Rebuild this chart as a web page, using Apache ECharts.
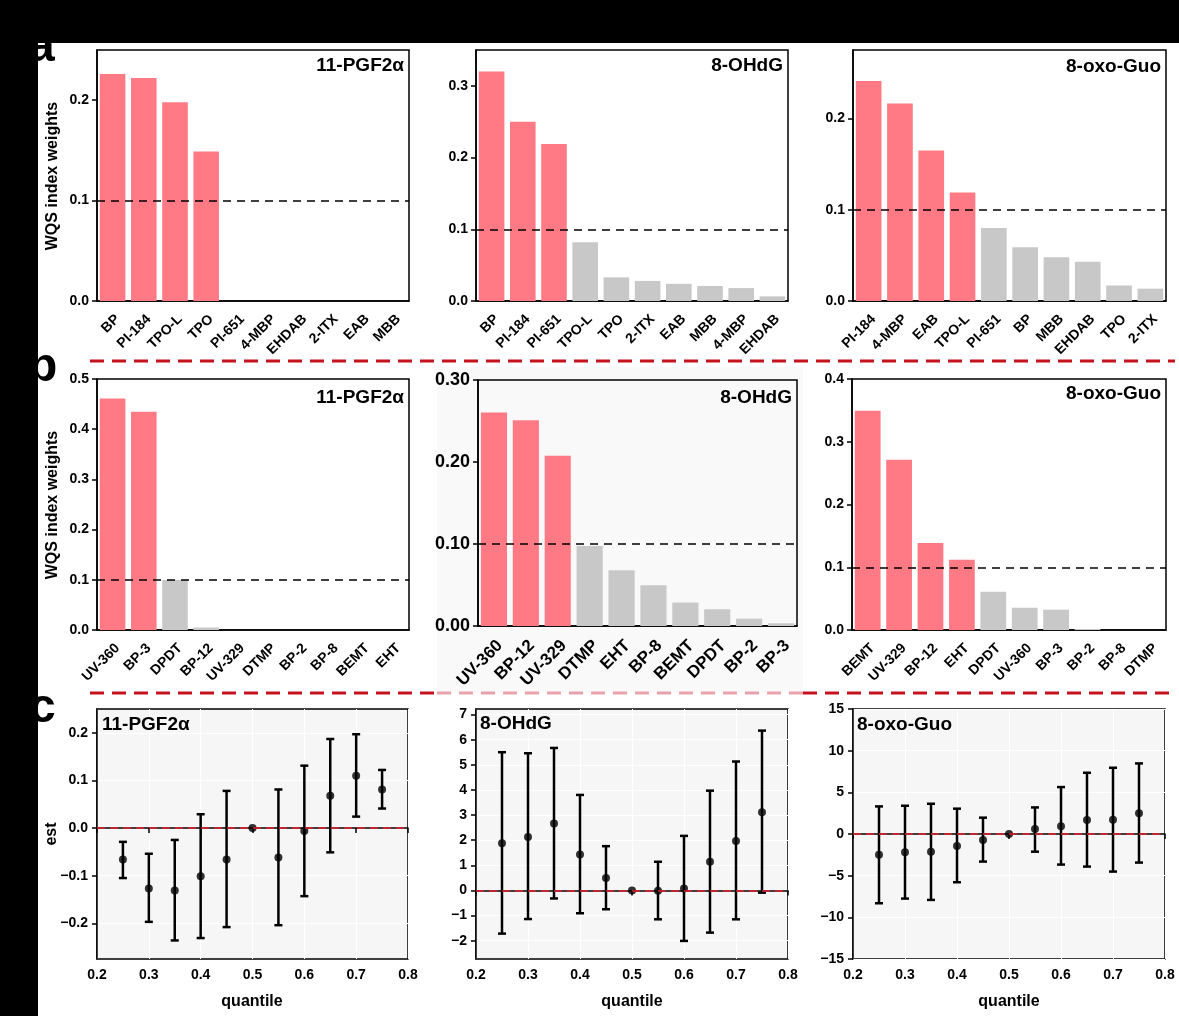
<!DOCTYPE html>
<html>
<head>
<meta charset="utf-8">
<script src="https://cdn.jsdelivr.net/npm/echarts@6/dist/echarts.min.js"></script>
<style>
  html, body { margin: 0; padding: 0; background: #fff; }
  #main { width: 1179px; height: 1016px; }
</style>
</head>
<body>
<div id="main"></div>
<script>
// ---- WQS weights (rows a, b) ----
const catsA1 = ['BP', 'PI-184', 'TPO-L', 'TPO', 'PI-651', '4-MBP', 'EHDAB', '2-ITX', 'EAB', 'MBB'];
const wA1 = [0.226, 0.222, 0.198, 0.149, 0, 0, 0, 0, 0, 0];
const catsA2 = ['BP', 'PI-184', 'PI-651', 'TPO-L', 'TPO', '2-ITX', 'EAB', 'MBB', '4-MBP', 'EHDAB'];
const wA2 = [0.320, 0.250, 0.219, 0.082, 0.033, 0.028, 0.024, 0.021, 0.018, 0.0065];
const catsA3 = ['PI-184', '4-MBP', 'EAB', 'TPO-L', 'PI-651', 'BP', 'MBB', 'EHDAB', 'TPO', '2-ITX'];
const wA3 = [0.241, 0.2165, 0.165, 0.119, 0.080, 0.059, 0.048, 0.043, 0.017, 0.0135];

const catsB1 = ['UV-360', 'BP-3', 'DPDT', 'BP-12', 'UV-329', 'DTMP', 'BP-2', 'BP-8', 'BEMT', 'EHT'];
const wB1 = [0.461, 0.435, 0.0995, 0.005, 0, 0, 0, 0, 0, 0];
const catsB2 = ['UV-360', 'BP-12', 'UV-329', 'DTMP', 'EHT', 'BP-8', 'BEMT', 'DPDT', 'BP-2', 'BP-3'];
const wB2 = [0.2605, 0.251, 0.2075, 0.0977, 0.068, 0.0497, 0.0286, 0.0204, 0.009, 0.0033];
const catsB3 = ['BEMT', 'UV-329', 'BP-12', 'EHT', 'DPDT', 'UV-360', 'BP-3', 'BP-2', 'BP-8', 'DTMP'];
const wB3 = [0.3495, 0.2714, 0.1386, 0.112, 0.061, 0.0355, 0.0324, 0.0016, 0, 0];

const ticksA1 = [0, 0.1, 0.2];
const ticksA2 = [0, 0.1, 0.2, 0.3];
const ticksA3 = [0, 0.1, 0.2];
const ticksB1 = [0, 0.1, 0.2, 0.3, 0.4, 0.5];
const ticksB2 = [0, 0.1, 0.2, 0.3];
const ticksB3 = [0, 0.1, 0.2, 0.3, 0.4];

// ---- qgcomp estimates (row c) ----
const quantiles = [0.25, 0.3, 0.35, 0.4, 0.45, 0.5, 0.55, 0.6, 0.65, 0.7, 0.75];
const estC1 = [-0.066, -0.127, -0.131, -0.101, -0.066, 0, -0.062, -0.006, 0.068, 0.110, 0.081];
const lowC1 = [-0.105, -0.197, -0.236, -0.231, -0.208, 0, -0.204, -0.143, -0.051, 0.024, 0.041];
const upC1 = [-0.029, -0.054, -0.025, 0.029, 0.078, 0, 0.081, 0.131, 0.187, 0.197, 0.122];
const estC2 = [1.88, 2.13, 2.66, 1.43, 0.49, 0, -0.01, 0.08, 1.14, 1.97, 3.11];
const lowC2 = [-1.72, -1.14, -0.32, -0.91, -0.75, 0, -1.15, -2.01, -1.68, -1.15, -0.09];
const upC2 = [5.50, 5.46, 5.67, 3.80, 1.76, 0, 1.14, 2.17, 3.97, 5.13, 6.36];
const estC3 = [-2.48, -2.20, -2.12, -1.44, -0.72, 0, 0.60, 0.92, 1.68, 1.72, 2.48];
const lowC3 = [-8.31, -7.75, -7.91, -5.79, -3.31, 0, -2.12, -3.67, -3.91, -4.51, -3.43];
const upC3 = [3.31, 3.39, 3.63, 3.04, 1.96, 0, 3.19, 5.63, 7.35, 7.95, 8.47];

const ticksC1 = [-0.2, -0.1, 0, 0.1, 0.2];
const ticksC2 = [-2, -1, 0, 1, 2, 3, 4, 5, 6, 7];
const ticksC3 = [-15, -10, -5, 0, 5, 10, 15];

const FONT = '"Liberation Sans", Arial, sans-serif';
const RED = '#ff7a84';
const GREY = '#c8c8c8';
const CUT = 0.1;

const chart = echarts.init(document.getElementById('main'));

const grids = [], xAxes = [], yAxes = [], series = [];
const black = { color: '#000', width: 1.5 };

function minus(s) { return s.replace('-', '\u2212'); }

function barPanel(box, cats, vals, ymax, yticks, fs, yfs, dec, bg) {
  const i = grids.length;
  grids.push({
    left: box[0], top: box[1], width: box[2], height: box[3],
    show: true, borderColor: '#000', borderWidth: 1.5,
    backgroundColor: bg || 'transparent', containLabel: false, outerBoundsMode: 'none'
  });
  xAxes.push({
    gridIndex: i, type: 'category', data: cats,
    axisLine: { lineStyle: black },
    axisTick: { interval: 0, alignWithLabel: true, length: 5, lineStyle: black },
    axisLabel: { interval: 0, rotate: 45, color: '#000', fontWeight: 'bold', fontFamily: FONT,
      fontSize: fs, margin: 11, verticalAlign: 'top' },
    splitLine: { show: false }
  });
  yAxes.push({
    gridIndex: i, type: 'value', min: 0, max: ymax,
    axisLine: { show: true, lineStyle: black },
    axisTick: { show: true, customValues: yticks, length: 5, lineStyle: black },
    axisLabel: {
      customValues: yticks, color: '#000', fontWeight: 'bold', fontFamily: FONT,
      fontSize: yfs, margin: 8, formatter: v => v.toFixed(dec)
    },
    splitLine: { show: false }
  });
  series.push({
    type: 'bar', xAxisIndex: i, yAxisIndex: i, barCategoryGap: '18%',
    data: vals.map(v => ({ value: v, itemStyle: { color: v > CUT ? RED : GREY } })),
    markLine: {
      silent: true, symbol: 'none', label: { show: false },
      lineStyle: { color: '#000', type: [8, 6], width: 1.5 },
      data: [{ yAxis: CUT }]
    }
  });
}

function errPanel(box, est, low, up, ymin, ymax, yticks, dec) {
  const i = grids.length;
  grids.push({
    left: box[0], top: box[1], width: box[2], height: box[3],
    show: true, borderColor: '#000', borderWidth: 1.5,
    backgroundColor: '#f6f6f6', containLabel: false, outerBoundsMode: 'none'
  });
  xAxes.push({
    gridIndex: i, type: 'value', min: 0.2, max: 0.8, interval: 0.1,
    axisLine: { lineStyle: black },
    axisTick: { length: 5, lineStyle: black },
    axisLabel: { color: '#000', fontWeight: 'bold', fontFamily: FONT, fontSize: 14, margin: 9,
      formatter: v => v.toFixed(1) },
    splitLine: { show: true, lineStyle: { color: '#ffffff', width: 1 } }
  });
  yAxes.push({
    gridIndex: i, type: 'value', min: ymin, max: ymax,
    axisLine: { show: true, lineStyle: black },
    axisTick: { show: true, customValues: yticks, length: 5, lineStyle: black },
    axisLabel: { customValues: yticks, color: '#000', fontWeight: 'bold', fontFamily: FONT, fontSize: 14, margin: 9,
      formatter: v => minus(v.toFixed(dec)) },
    splitLine: { show: true, lineStyle: { color: '#ffffff', width: 1 } }
  });
  series.push({
    type: 'custom', xAxisIndex: i, yAxisIndex: i, z: 2,
    data: quantiles.map((q, k) => [q, low[k], up[k]]),
    renderItem: function (params, api) {
      const lo = api.value(1), hi = api.value(2);
      if (lo === hi) return null;
      const a = api.coord([api.value(0), lo]);
      const b = api.coord([api.value(0), hi]);
      const cap = 4;
      const st = { stroke: '#000', lineWidth: 2.5 };
      return {
        type: 'group',
        children: [
          { type: 'line', shape: { x1: a[0], y1: a[1], x2: b[0], y2: b[1] }, style: st },
          { type: 'line', shape: { x1: a[0] - cap, y1: a[1], x2: a[0] + cap, y2: a[1] }, style: st },
          { type: 'line', shape: { x1: b[0] - cap, y1: b[1], x2: b[0] + cap, y2: b[1] }, style: st }
        ]
      };
    },
    markLine: {
      silent: true, symbol: 'none', label: { show: false },
      lineStyle: { color: '#e8202e', type: [8, 5], width: 1.6 },
      data: [{ yAxis: 0 }]
    }
  });
  series.push({
    type: 'scatter', xAxisIndex: i, yAxisIndex: i, z: 3,
    symbol: 'circle', symbolSize: 8, itemStyle: { color: '#000' },
    data: quantiles.map((q, k) => [q, est[k]])
  });
}

barPanel([97, 50, 312, 251], catsA1, wA1, 0.25, ticksA1, 14, 14, 1);
barPanel([476, 50, 312, 251], catsA2, wA2, 0.35, ticksA2, 14, 14, 1);
barPanel([853, 50, 313, 251], catsA3, wA3, 0.275, ticksA3, 14, 14, 1);
barPanel([97, 379, 312, 251], catsB1, wB1, 0.5, ticksB1, 14, 14, 1);
barPanel([478, 380, 319, 246], catsB2, wB2, 0.3, ticksB2, 17, 18, 2, '#f9f9f9');
barPanel([852, 379, 314, 251], catsB3, wB3, 0.4, ticksB3, 14, 14, 1);
errPanel([97, 709, 311, 250], estC1, lowC1, upC1, -0.275, 0.25, ticksC1, 1);
errPanel([476, 709, 312, 250], estC2, lowC2, upC2, -2.73, 7.22, ticksC2, 0);
errPanel([853, 709, 312, 250], estC3, lowC3, upC3, -15, 15, ticksC3, 0);

function txt(x, y, s, size, align, extra) {
  return Object.assign({
    type: 'text', x: x, y: y, z: 20,
    style: { text: s, font: 'bold ' + size + 'px ' + FONT, fill: '#000', align: align, verticalAlign: 'middle' }
  }, extra || {});
}

const sepDark = '#c4121f';
const graphics = [
  { type: 'rect', z: -10, shape: { x: 437, y: 367, width: 366, height: 326 }, style: { fill: '#f9f9f9' } },
  // panel titles
  txt(404, 66, '11-PGF2α', 19, 'right'),
  txt(783, 66, '8-OHdG', 19, 'right'),
  txt(1161, 67, '8-oxo-Guo', 19, 'right'),
  txt(404, 398, '11-PGF2α', 19, 'right'),
  txt(792, 398, '8-OHdG', 19, 'right'),
  txt(1161, 394, '8-oxo-Guo', 19, 'right'),
  txt(102, 725, '11-PGF2α', 19, 'left'),
  txt(480, 724, '8-OHdG', 19, 'left'),
  txt(857, 725, '8-oxo-Guo', 19, 'left'),
  // axis names
  txt(53, 176, 'WQS index weights', 16, 'center', { rotation: Math.PI / 2 }),
  txt(53, 505, 'WQS index weights', 16, 'center', { rotation: Math.PI / 2 }),
  txt(52, 834, 'est', 16, 'center', { rotation: Math.PI / 2 }),
  txt(252, 1002, 'quantile', 16, 'center'),
  txt(632, 1002, 'quantile', 16, 'center'),
  txt(1009, 1002, 'quantile', 16, 'center'),
  // separators
  { type: 'line', z: 30, shape: { x1: 90, y1: 361, x2: 1175, y2: 361 },
    style: { stroke: sepDark, lineWidth: 3, lineDash: [14, 8] } },
  { type: 'line', z: 30, shape: { x1: 90, y1: 693, x2: 437, y2: 693 },
    style: { stroke: sepDark, lineWidth: 3, lineDash: [14, 8] } },
  { type: 'line', z: 30, shape: { x1: 437, y1: 693, x2: 803, y2: 693 },
    style: { stroke: '#e6a3ab', lineWidth: 3, lineDash: [14, 8] } },
  { type: 'line', z: 30, shape: { x1: 803, y1: 693, x2: 1175, y2: 693 },
    style: { stroke: sepDark, lineWidth: 3, lineDash: [14, 8] } },
  // panel letters
  { type: 'text', z: 40, x: 28, y: 72, style: { text: 'a', font: 'bold 48px ' + FONT, fill: '#000', align: 'left', verticalAlign: 'bottom' } },
  { type: 'text', z: 40, x: 28, y: 392, style: { text: 'b', font: 'bold 48px ' + FONT, fill: '#000', align: 'left', verticalAlign: 'bottom' } },
  { type: 'text', z: 40, x: 29, y: 733, style: { text: 'c', font: 'bold 48px ' + FONT, fill: '#000', align: 'left', verticalAlign: 'bottom' } },
  // black frame strips
  { type: 'rect', z: 50, shape: { x: 0, y: 0, width: 1179, height: 43 }, style: { fill: '#000' } },
  { type: 'rect', z: 50, shape: { x: 0, y: 0, width: 38, height: 1016 }, style: { fill: '#000' } }
];

chart.setOption({
  animation: false,
  backgroundColor: '#fff',
  textStyle: { fontFamily: FONT },
  grid: grids,
  xAxis: xAxes,
  yAxis: yAxes,
  series: series,
  graphic: graphics
});
</script>
</body>
</html>
